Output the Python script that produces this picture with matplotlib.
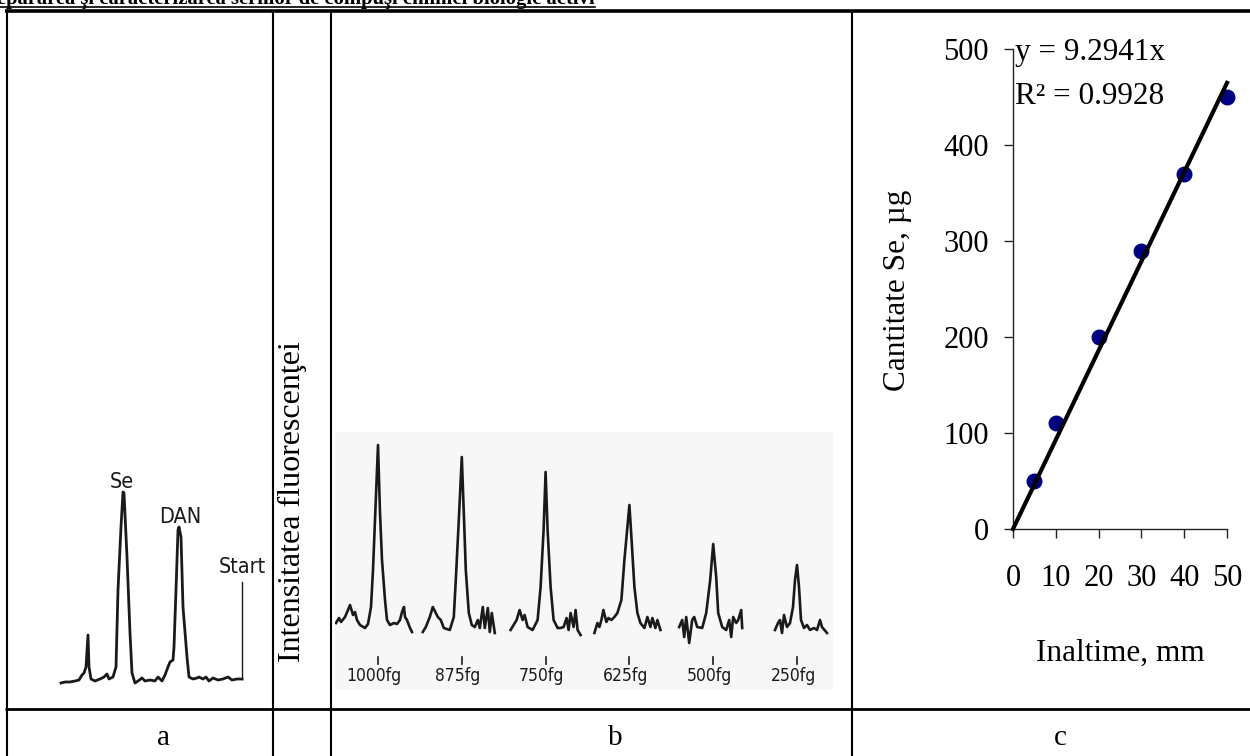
import matplotlib
matplotlib.use("Agg")
import matplotlib.pyplot as plt

W, H = 1250, 756
SERIF = "Liberation Serif"
SANS = "DejaVu Sans"

# --- panel a: chromatogram (distance, intensity) ---
chrom_x = [21, 25, 30, 35, 39, 42, 44, 46, 48, 49, 51, 55, 60, 64, 67, 69, 73, 76,
           78, 81, 83, 84, 87, 90, 92, 95, 98, 102, 105, 110, 115, 118, 122, 125,
           128, 130, 133, 134, 136, 138, 139, 141, 143, 147, 149, 153, 157, 159,
           163, 166, 169, 173, 178, 183, 188, 192, 197, 202]
chrom_y = [0, 1, 1, 2, 3, 8, 10, 16, 48, 16, 4, 2, 4, 6, 9, 4, 6, 16,
           93, 156, 191, 190, 126, 50, 10, 0, 2, 5, 2, 3, 2, 6, 2, 8,
           16, 21, 23, 36, 93, 153, 156, 146, 76, 26, 6, 4, 5, 6,
           4, 6, 2, 5, 3, 4, 6, 3, 4, 4]
start_x = 202
start_y = [4, 101]
peak_names = ["Se", "DAN", "Start"]
peak_label_x = [82, 140, 202]
peak_label_y = [201, 166, 116]

# --- panel b: fluorescence peaks (offset from peak, intensity) ---
amounts = ["1000fg", "875fg", "750fg", "625fg", "500fg", "250fg"]
trace_dx = [
    [-42, -39, -37, -33, -30, -28, -25, -23, -21, -18, -13, -10, -7, -5, -3, 0,
     2, 4, 7, 9, 12, 16, 19, 22, 24, 26, 27, 29, 32, 34],
    [-39, -36, -32, -29, -26, -24, -21, -18, -12, -8, -6, -3, 0, 2, 4, 7,
     10, 13, 16, 18, 21, 23, 26, 28, 30, 33],
    [-35, -32, -29, -26, -23, -21, -18, -13, -8, -5, -2, 0, 2, 5, 8, 12,
     15, 18, 21, 23, 25, 28, 30, 32, 35],
    [-35, -32, -30, -28, -26, -23, -21, -18, -15, -12, -8, -5, -2, 0, 2, 5,
     8, 11, 15, 18, 21, 23, 26, 28, 31],
    [-34, -31, -29, -27, -24, -21, -19, -16, -11, -7, -3, 0, 3, 5, 9, 13,
     16, 18, 20, 23, 25, 28, 29],
    [-22, -19, -17, -15, -13, -10, -7, -4, -2, 0, 2, 4, 7, 10, 13, 17,
     20, 23, 25, 30],
]
trace_y = [
    [5, 10, 6, 11, 18, 23, 13, 16, 8, 3, 0, 4, 21, 58, 108, 183,
     115, 68, 28, 8, 3, 5, 4, 8, 16, 21, 11, 8, 0, -4],
    [-4, 1, 11, 21, 15, 11, 8, 0, -2, 11, 48, 108, 171, 115, 58, 15,
     3, 1, 8, 0, 21, 0, 20, -4, 15, -5],
    [-2, 3, 8, 18, 8, 13, 1, -2, 8, 41, 98, 156, 98, 41, 8, 0,
     0, 1, 10, -2, 15, 1, 18, -2, -7],
    [-5, 5, 1, 8, 18, 6, 10, 8, 11, 15, 28, 68, 101, 123, 91, 41,
     15, 5, 0, 11, 1, 10, 0, 8, -2],
    [1, 8, -9, 11, -15, 8, 11, 1, 0, 15, 48, 84, 51, 15, 1, -2,
     8, -9, 11, 5, 8, 18, 0],
    [-2, 5, 8, -5, 13, 1, 5, 21, 48, 63, 41, 8, 0, 3, -2, 0,
     -2, 8, 1, -5],
]

# --- panel c: calibration ---
inaltime = [5, 10, 20, 30, 40, 50]
cantitate = [50, 110, 200, 290, 370, 450]
slope = 9.2941
r2 = 0.9928

fig = plt.figure(figsize=(W / 100, H / 100), dpi=100)


def px_axes(x0, y0, x1, y1):
    return fig.add_axes([x0 / W, 1 - y1 / H, (x1 - x0) / W, (y1 - y0) / H])


# table frame
tbl = fig.add_axes([0, 0, 1, 1])
tbl.set_xlim(0, W)
tbl.set_ylim(H, 0)
tbl.axis("off")
tbl.plot([5, W], [11, 11], color="black", lw=2.6, solid_capstyle="butt")
tbl.plot([5, W], [709, 709], color="black", lw=2.0, solid_capstyle="butt")
for xv in [7, 273, 331, 852]:
    tbl.plot([xv, xv], [11, H], color="black", lw=1.5, solid_capstyle="butt")
for lab, xv in zip(["a", "b", "c"], [163, 615, 1060]):
    tbl.text(xv, 738, lab, family=SERIF, fontsize=21, ha="center", va="center")
tbl.text(292, 502, "Intensitatea fluorescenţei", family=SERIF, fontsize=23,
         rotation=90, ha="center", va="center")

# heading, cut at the top edge
title = tbl.text(-3, 4, "epararea şi caracterizarea seriilor de compuşi chimici biologic activi",
                 family=SERIF, weight="bold", fontsize=13, ha="left", va="baseline")
fig.canvas.draw()
bb = title.get_window_extent()
title.set_fontsize(13 * 598 / bb.width)
tbl.plot([0, 595], [6.5, 6.5], color="black", lw=1.2)

# panel a
axa = px_axes(40, 440, 260, 700)
axa.set_xlim(0, 220)
axa.set_ylim(-17, 243)
axa.axis("off")
axa.plot(chrom_x, chrom_y, color="#1a1a1a", lw=2.0, solid_joinstyle="round")
axa.plot([start_x, start_x], start_y, color="#1a1a1a", lw=1.0)
for name, xv, yv in zip(peak_names, peak_label_x, peak_label_y):
    axa.text(xv, yv, name, family=SANS, fontstretch="condensed", fontsize=15.5,
             ha="center", va="center", color="#1a1a1a")

# panel b
axb = px_axes(335, 432, 833, 690)
axb.set_xlim(0, 498)
axb.set_ylim(-62, 196)
axb.set_facecolor("#f7f7f7")
axb.set_xticks([])
axb.set_yticks([])
for sp in axb.spines.values():
    sp.set_visible(False)
for i, (amt, dxs, ys) in enumerate(zip(amounts, trace_dx, trace_y)):
    xc = 43 + i * 83.8
    axb.plot([xc + d for d in dxs], ys, color="#1a1a1a", lw=1.9,
             solid_joinstyle="round")
    axb.plot([xc, xc], [-29, -36], color="#1a1a1a", lw=1.2)
    axb.text(xc - 4, -48, amt, family=SANS, fontstretch="condensed", fontsize=12.5,
             ha="center", va="center", color="#1a1a1a")

# panel c
axc = px_axes(1013, 49, 1227, 529)
axc.set_xlim(0, 50)
axc.set_ylim(0, 500)
axc.scatter(inaltime, cantitate, s=110, color="#000080", zorder=3, clip_on=False)
axc.plot([0, 50], [0, slope * 50], color="black", lw=3, zorder=4, clip_on=False)
axc.spines["top"].set_visible(False)
axc.spines["right"].set_visible(False)
for sp in ["left", "bottom"]:
    axc.spines[sp].set_linewidth(1.0)
    axc.spines[sp].set_color("#222222")
axc.set_xticks(range(0, 51, 10))
axc.set_yticks(range(0, 501, 100))
axc.tick_params(axis="both", direction="out", length=6.5, width=1.0, color="#222222",
                labelsize=22)
axc.tick_params(axis="x", pad=19)
axc.tick_params(axis="y", pad=11)
for lbl in axc.get_xticklabels() + axc.get_yticklabels():
    lbl.set_family(SERIF)
axc.set_ylabel("Cantitate Se, µg", family=SERIF, fontsize=22.5, va="center")
axc.yaxis.set_label_coords((897 - 1013) / 214, (529 - 290) / 480)
axc.set_xlabel("Inaltime, mm", family=SERIF, fontsize=22.5, va="center")
axc.xaxis.set_label_coords((1120 - 1013) / 214, (529 - 653) / 480)
axc.text(0.01, 0.992, "y = %.4fx" % slope, transform=axc.transAxes, family=SERIF,
         fontsize=22.5, ha="left", va="center")
axc.text(0.01, 0.9, "R² = %.4f" % r2, transform=axc.transAxes, family=SERIF,
         fontsize=22.5, ha="left", va="center")

fig.savefig("out.png", dpi=100)
